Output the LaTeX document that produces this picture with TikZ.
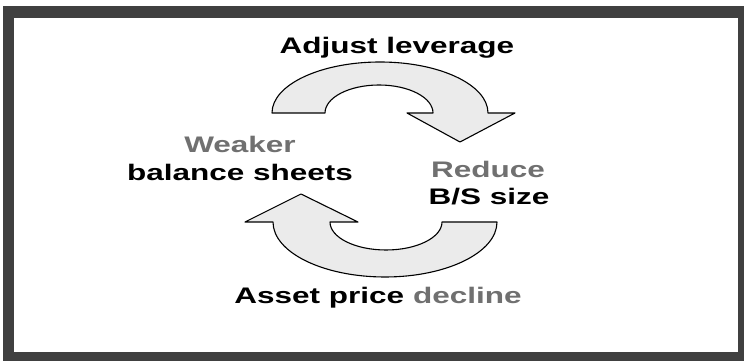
\documentclass[tikz,border=0pt]{standalone}
\usepackage{fontspec}
\usepackage{tikz}
\usetikzlibrary{positioning}
\newfontfamily\widesans[FakeStretch=1.4]{Liberation Sans}
\definecolor{framegray}{HTML}{404040}
\definecolor{txtgray}{HTML}{707070}
\definecolor{arrowfill}{HTML}{EBEBEB}
\tikzset{
    blockarrow/.style = {draw=black, line width=1.1pt, line join=round, fill=arrowfill},
    lbl/.style = {anchor=base, inner sep=0pt, text=black, font=\widesans\bfseries\fontsize{22.5}{26}\selectfont},
    lblg/.style = {lbl, text=txtgray}, % gray words
}

\begin{document}
\begin{tikzpicture}[x=1pt,y=1pt]
  \useasboundingbox (0,0) rectangle (744,361);
  % frame
  \fill[framegray] (3,0) rectangle (744,355);
  \fill[white] (14,9) rectangle (738,343);

  % upper arrow
  \draw[blockarrow] (272,248) arc[start angle=180,end angle=0,x radius=108pt,y radius=51pt]
    -- (515,248) -- (460,219) -- (407,248) -- (433,248)
    arc[start angle=0,end angle=180,x radius=54pt,y radius=28pt] -- cycle;
  % lower arrow
  \draw[blockarrow] (497,139) arc[start angle=0,end angle=-180,x radius=112pt,y radius=55pt]
    -- (245,139) -- (301,167) -- (358,139) -- (330,139)
    arc[start angle=180,end angle=360,x radius=56pt,y radius=28pt] -- cycle;

  \node[lbl] (adjust) at (397,307) {Adjust leverage};
  \node[lblg] (weaker) at (240,208) {Weaker};
  \node[lbl] (sheets) at (240,180) {balance sheets};
  \node[lblg] (reduce) at (488,183) {Reduce};
  \node[lbl] (bssize) at (489,156) {B/S size};
  \node[lbl] (asset) at (378,57) {Asset price \textcolor{txtgray}{decline}};
\end{tikzpicture}
\end{document}
